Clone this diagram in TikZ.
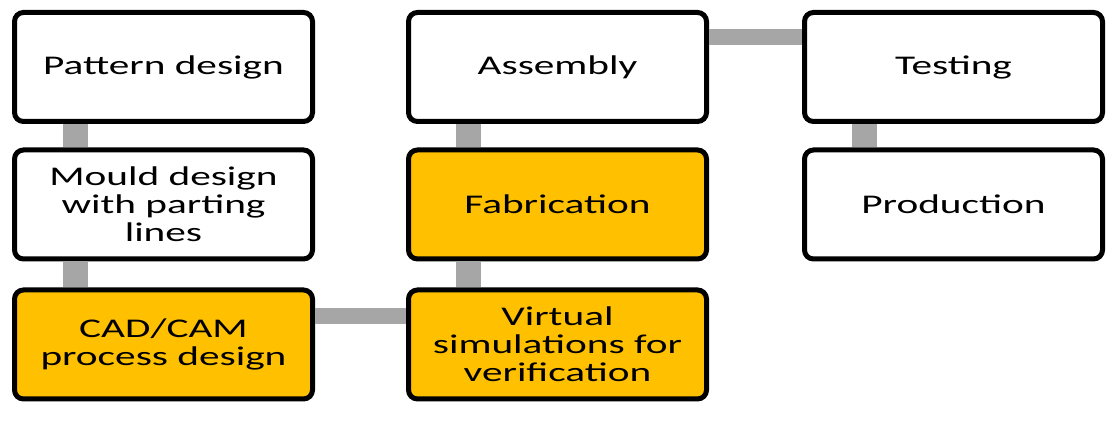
\documentclass[tikz,border=0pt]{standalone}
\usepackage{fontspec}
\newfontfamily\boxfont{Carlito}[FakeStretch=1.53]
\usetikzlibrary{calc}
\definecolor{stepgold}{HTML}{FFC000}
\definecolor{linkgray}{HTML}{A6A6A6}
\begin{document}
\begin{tikzpicture}[x=0.5pt,y=0.5pt]
        \tikzset{
            stepbox/.style={draw=black,line width=2.5pt,rounded corners=4.5pt,fill=white,
                minimum width=149pt,minimum height=54.5pt,inner sep=0pt,align=center,
                font=\boxfont\fontsize{13.5}{14}\selectfont},
            stephl/.style={stepbox,fill=stepgold},
            vlink/.style={linkgray,line width=12.5pt},
            hlink/.style={linkgray,line width=8pt}
        }
        \useasboundingbox (0,0) rectangle (1113,438);

        % column 1
        \node[stepbox] (pattern) at (163.5,371)  {Pattern design};
        \node[stepbox] (mould)   at (163.5,233.5) {Mould design\\with parting\\lines};
        \node[stephl]  (cadcam)  at (163.5,93.5) {CAD/CAM\\process design};
        % column 2
        \node[stepbox] (assembly) at (557.5,371)  {Assembly};
        \node[stephl]  (fabric)   at (557.5,233.5) {Fabrication};
        \node[stephl]  (virtual)  at (557.5,93.5) {Virtual\\simulations for\\verification};
        % column 3
        \node[stepbox] (testing)  at (953.5,371)  {Testing};
        \node[stepbox] (product)  at (953.5,233.5) {Production};

        \draw[vlink] ([xshift=31.5pt]pattern.south west) -- ([xshift=31.5pt]mould.north west);
        \draw[vlink] ([xshift=31.5pt]mould.south west) -- ([xshift=31.5pt]cadcam.north west);
        \draw[hlink] ([yshift=-14.25pt]cadcam.north east) -- ([yshift=-14.25pt]virtual.north west);
        \draw[vlink] ([xshift=31.25pt]virtual.north west) -- ([xshift=31.25pt]fabric.south west);
        \draw[vlink] ([xshift=31.25pt]fabric.north west) -- ([xshift=31.25pt]assembly.south west);
        \draw[hlink] ([yshift=-13.5pt]assembly.north east) -- ([yshift=-13.5pt]testing.north west);
        \draw[vlink] ([xshift=31.25pt]testing.south west) -- ([xshift=31.25pt]product.north west);
    \end{tikzpicture}
\end{document}
